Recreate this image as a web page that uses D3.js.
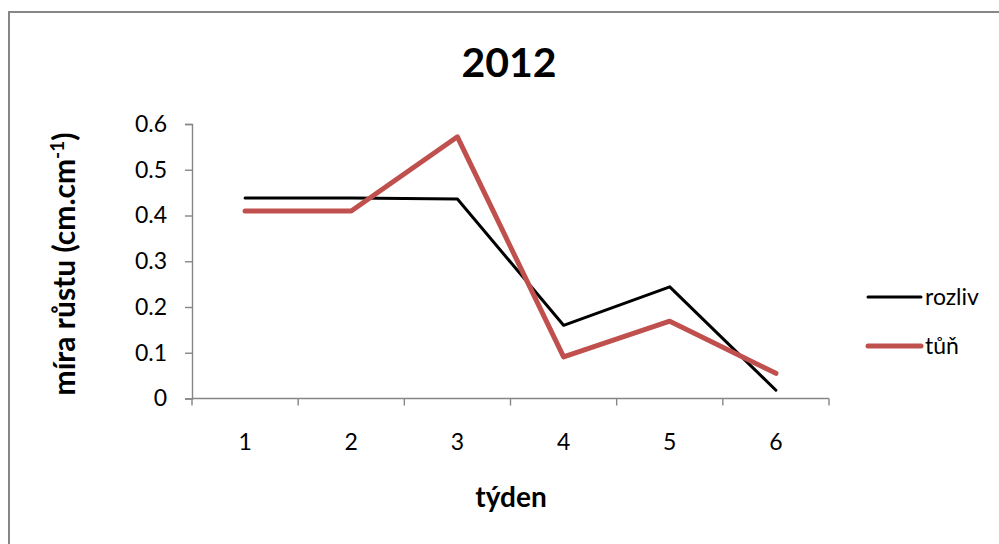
<!DOCTYPE html>
<html>
<head>
<meta charset="utf-8">
<script src="https://cdn.jsdelivr.net/npm/d3@7"></script>
<style>
  html, body { margin: 0; padding: 0; background: #fff; }
  svg { display: block; font-family: Lato, "Open Sans", sans-serif; }
</style>
</head>
<body>
<svg id="chart" width="999" height="544"></svg>
<script>
// Weekly growth rate, 2012
const weeks = ["1", "2", "3", "4", "5", "6"];
const rozliv = [0.438, 0.438, 0.436, 0.160, 0.244, 0.018];
const tun = [0.410, 0.410, 0.572, 0.091, 0.169, 0.055];
const yTicks = [0, 0.1, 0.2, 0.3, 0.4, 0.5, 0.6];

const series = [
  { name: "rozliv", values: rozliv, color: "#000000", width: 3 },
  { name: "tůň", values: tun, color: "#C0504D", width: 5 }
];

const svg = d3.select("#chart");
const axisColor = "#868686";

// outer chart frame (only top and left edges fall inside the view)
svg.append("rect")
  .attr("x", 9).attr("y", 12)
  .attr("width", 1100).attr("height", 600)
  .attr("fill", "none")
  .attr("stroke", axisColor)
  .attr("stroke-width", 2);

const plot = { left: 192, right: 829, top: 124, bottom: 398.5 };

const x = d3.scaleBand().domain(weeks).range([plot.left, plot.right]);
const y = d3.scaleLinear().domain([0, 0.6]).range([plot.bottom, plot.top]);

// title
svg.append("text")
  .attr("x", 509).attr("y", 77)
  .attr("text-anchor", "middle")
  .attr("font-size", 41).attr("font-weight", "bold")
  .attr("fill", "#000")
  .text("2012");

// y axis
const yAxis = svg.append("g")
  .attr("transform", `translate(${plot.left},0)`)
  .call(d3.axisLeft(y).tickValues(yTicks).tickSize(7).tickPadding(18)
    .tickFormat(d => d === 0 ? "0" : d3.format(".1f")(d)));
yAxis.selectAll("text").attr("font-size", 23).attr("fill", "#000")
  .attr("font-family", "Lato, sans-serif");

// x axis: ticks sit on the band boundaries, labels at band centres
const xAxisG = svg.append("g").attr("transform", `translate(0,${plot.bottom})`);
const xEdges = weeks.map(w => x(w)).concat([plot.right]);
xAxisG.append("line")
  .attr("x1", plot.left).attr("x2", plot.right)
  .attr("y1", 0).attr("y2", 0);
xAxisG.selectAll("line.tick")
  .data(xEdges).join("line").attr("class", "tick")
  .attr("x1", d => d).attr("x2", d => d)
  .attr("y1", 0).attr("y2", 7);
xAxisG.selectAll("text")
  .data(weeks).join("text")
  .attr("x", d => x(d) + x.bandwidth() / 2)
  .attr("y", 51)
  .attr("text-anchor", "middle")
  .attr("font-size", 23).attr("fill", "#000")
  .text(d => d);

svg.selectAll(".domain, .tick line, g line")
  .attr("stroke", axisColor).attr("stroke-width", 1.4);

// axis titles
svg.append("text")
  .attr("x", 511).attr("y", 507)
  .attr("text-anchor", "middle")
  .attr("font-size", 28).attr("font-weight", "bold")
  .attr("fill", "#000")
  .text("týden");

const yTitle = svg.append("text")
  .attr("transform", "translate(75,264) rotate(-90)")
  .attr("text-anchor", "middle")
  .attr("font-size", 30).attr("font-weight", "bold")
  .attr("fill", "#000");
yTitle.append("tspan").text("míra růstu (cm.cm");
yTitle.append("tspan").attr("font-size", 19).attr("dy", -11).text("-1");
yTitle.append("tspan").attr("dy", 11).text(")");

// series lines
const line = d3.line()
  .x((d, i) => x(weeks[i]) + x.bandwidth() / 2)
  .y(d => y(d));

svg.selectAll("path.series")
  .data(series).join("path").attr("class", "series")
  .attr("d", d => line(d.values))
  .attr("fill", "none")
  .attr("stroke", d => d.color)
  .attr("stroke-width", d => d.width)
  .attr("stroke-linejoin", "round")
  .attr("stroke-linecap", "round");

// legend
const legend = svg.selectAll("g.legend")
  .data(series).join("g").attr("class", "legend")
  .attr("transform", (d, i) => `translate(868,${297 + i * 49})`);
legend.append("line")
  .attr("x1", 0).attr("x2", 53).attr("y1", 0).attr("y2", 0)
  .attr("stroke", d => d.color)
  .attr("stroke-width", d => d.width)
  .attr("stroke-linecap", "round");
legend.append("text")
  .attr("x", 57).attr("y", 8)
  .attr("font-size", 23).attr("fill", "#000")
  .text(d => d.name);
</script>
</body>
</html>
